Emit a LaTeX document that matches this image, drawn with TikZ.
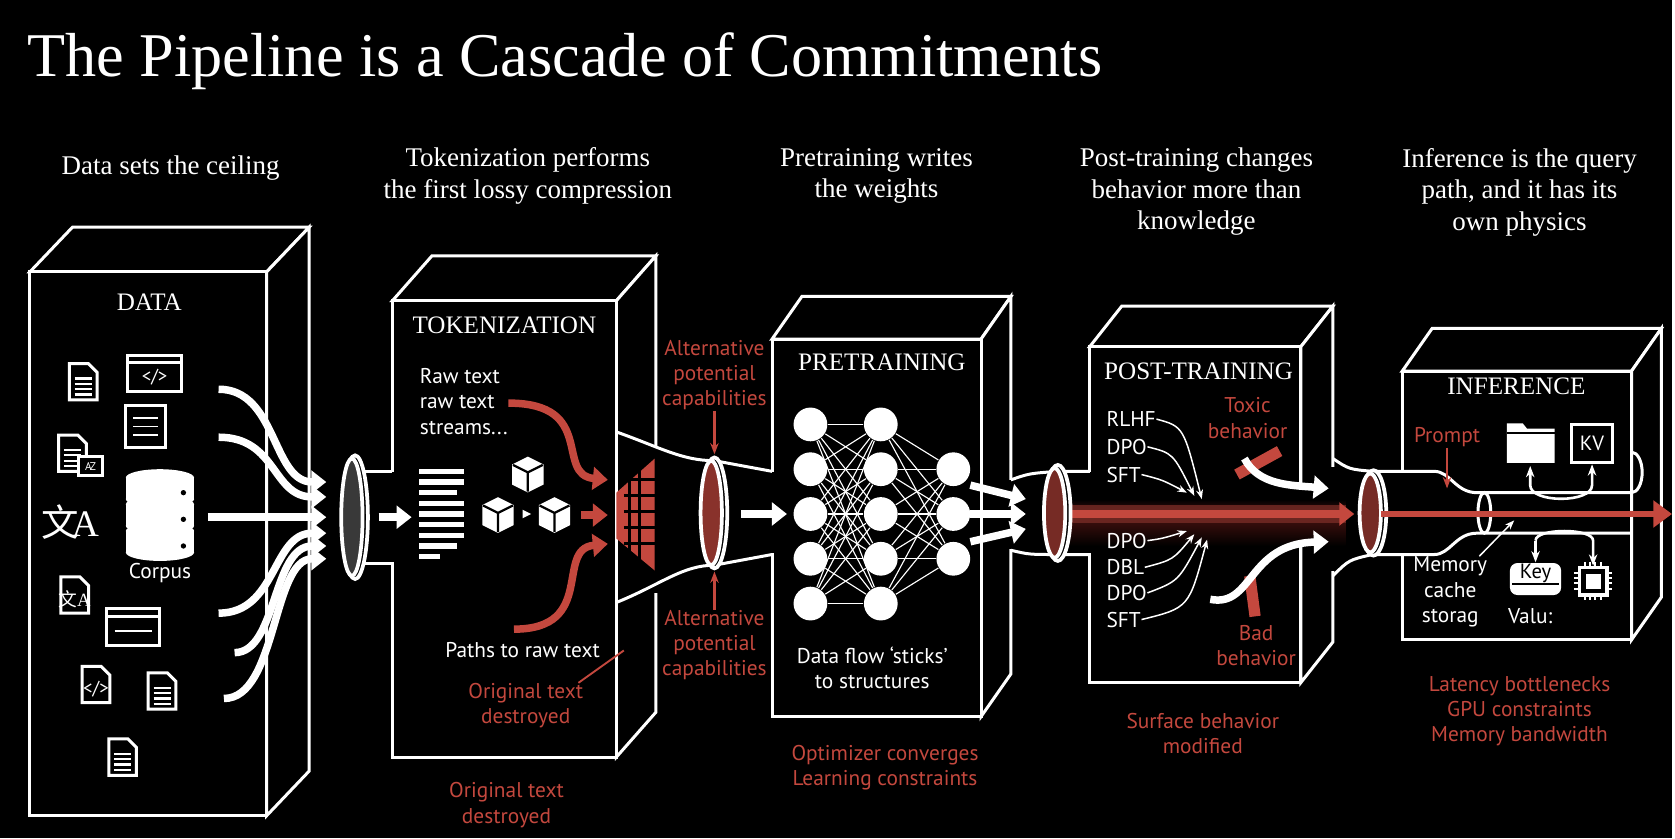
\documentclass[tikz,border=0pt]{standalone}
\usepackage{fontspec}
\setmainfont{Liberation Serif}
\setsansfont{PT Sans}
\newfontfamily\cjk{Noto Sans CJK SC}
\usetikzlibrary{arrows.meta,positioning,shapes.geometric}
\definecolor{redc}{HTML}{C4483E}
\definecolor{redd}{HTML}{4A1210}

\tikzstyle{hd} = [text=white, align=center, font=\fontsize{7.2}{8.4}\selectfont, inner sep=0pt]
\tikzstyle{ttl} = [text=white, font=\fontsize{6.7}{8}\selectfont, inner sep=0pt]
\tikzstyle{lbl} = [text=white, align=center, font=\sffamily\fontsize{5.7}{6.7}\selectfont, inner sep=0pt]
\tikzstyle{rlbl} = [lbl, text=redc]
\tikzstyle{box} = [draw=white, line width=0.8pt, fill=black]
\tikzstyle{tube} = [white, line width=0.8pt]
\tikzstyle{warr} = [white, line width=2pt, -{Triangle[length=4pt,width=6pt]}]
\tikzstyle{rarr} = [redc, line width=2pt, -{Triangle[length=4pt,width=6pt]}]
\tikzstyle{thin} = [white, line width=0.4pt, -{Stealth[length=2.5pt]}]
\tikzstyle{rthin} = [redc, line width=0.6pt, -{Stealth[length=3pt]}]
\tikzstyle{ico} = [white, line width=0.8pt]

% front corner x1,y1 / x2,y2, depth dx,dy
\newcommand{\slab}[6]{%
  \filldraw[box] (#1,#2) -- (#1+#5,#2-#6) -- (#3+#5,#2-#6) -- (#3,#2) -- cycle;
  \filldraw[box] (#3,#2) -- (#3+#5,#2-#6) -- (#3+#5,#4-#6) -- (#3,#4) -- cycle;
  \filldraw[box] (#1,#2) rectangle (#3,#4);}
\newcommand{\pageico}[2]{%
  \draw[ico, fill=black, shift={(#1,#2)}] (-13,-17) -- (5,-17) -- (13,-9) -- (13,17) -- (-13,17) -- cycle;}
\newcommand{\docico}[2]{%
  \pageico{#1}{#2}
  \foreach \yy in {-3,2,7,12} \draw[ico, line width=0.6pt, shift={(#1,#2)}] (-8,\yy) -- (8,\yy);}
\newcommand{\winico}[3]{%
  \begin{scope}[shift={(#1,#2)}]
    \draw[ico, fill=black] (-25,-17) rectangle (25,17);
    \draw[ico] (-25,-10) -- (25,-10);
    \node[lbl, font=\sffamily\fontsize{5}{5}\selectfont] at (0,4) {#3};
  \end{scope}}
\newcommand{\lens}[4]{% x, y, ry, fill
  \filldraw[white, line width=1pt, fill=black] (#1+3,#2) ellipse [x radius=12, y radius=#3];
  \filldraw[white, line width=1pt, fill=#4] (#1,#2) ellipse [x radius=10, y radius=#3-3];}

\begin{document}
\begin{tikzpicture}[x=0.1mm, y=-0.1mm]
  \fill[black] (0,0) rectangle (1568,786);

  \node[anchor=base west, text=white, font=\fontsize{16.6}{18}\selectfont, inner sep=0pt] (title) at (25,72) {The Pipeline is a Cascade of Commitments};

  % headings
  \node[hd] (h1) at (160,158) {Data sets the ceiling};
  \node[hd] (h2) at (495,165) {Tokenization performs\\the first lossy compression};
  \node[hd] (h3) at (822,165) {Pretraining writes\\the weights};
  \node[hd] (h4) at (1122,180) {Post-training changes\\behavior more than\\knowledge};
  \node[hd] (h5) at (1425,180) {Inference is the query\\path, and it has its\\own physics};

  % stages
  \slab{28}{255}{250}{765}{40}{42}
  \slab{368}{282}{578}{710}{37}{42}
  \slab{724}{318}{920}{672}{28}{40}
  \slab{1022}{325}{1220}{640}{30}{38}
  \slab{1315}{348}{1530}{600}{28}{40}

  \node[ttl] (tdata) at (140,283) {DATA};
  \node[ttl] (ttok) at (473,305) {TOKENIZATION};
  \node[ttl] (tpre) at (827,340) {PRETRAINING};
  \node[ttl] (tpost) at (1124,348) {POST-TRAINING};
  \node[ttl] (tinf) at (1422,362) {INFERENCE};

  % openings
  \fill[black] (362,443) rectangle (375,527);
  \fill[black] (718,443) rectangle (731,519);
  \fill[black] (1016,443) rectangle (1029,519);
  \fill[black] (1309,443) rectangle (1322,519);
  \fill[black] (606,418) rectangle (620,556);
  \fill[black] (940,450) rectangle (952,515);
  \fill[black] (1244,438) rectangle (1256,535);

  % tubes
  \draw[tube] (330,442) -- (368,442);
  \draw[tube] (330,528) -- (368,528);
  \draw[tube] (578,405) .. controls (620,420) and (640,432) .. (670,432) -- (724,442);
  \draw[tube] (578,565) .. controls (620,548) and (640,530) .. (670,530) -- (724,520);
  \draw[tube] (948,450) .. controls (965,444) .. (992,442) -- (1022,442);
  \draw[tube] (948,516) .. controls (965,520) .. (992,520) -- (1022,520);
  \draw[tube] (1250,430) .. controls (1265,440) .. (1287,442) -- (1345,442) .. controls (1360,442) and (1365,462) .. (1385,462) -- (1530,462) arc[start angle=-90, end angle=90, x radius=10, y radius=-19];
  \draw[tube] (1250,540) .. controls (1265,525) .. (1287,520) -- (1345,520) .. controls (1360,520) and (1365,500) .. (1385,500) -- (1530,500);
  \draw[tube] (1392,481) ellipse [x radius=6, y radius=19];

  % data icons
  \docico{78}{358}
  \winico{145}{350}{</>}
  \draw[ico, fill=black] (118,380) rectangle (155,420);
  \foreach \yy in {392,400,408} \draw[ico, line width=0.5pt] (125,\yy) -- (148,\yy);
  \docico{68}{425}
  \draw[ico, fill=black] (74,428) rectangle (96,446);
  \node[lbl, font=\sffamily\fontsize{3}{3}\selectfont] at (85,437) {A\!Z};
  \node[text=white, font=\fontsize{10}{10}\selectfont, inner sep=0pt] (xa) at (66,490) {{\cjk 文}\kern-2pt A};
  \pageico{70}{558}
  \node[text=white, font=\fontsize{5}{5}\selectfont, inner sep=0pt] at (70,562) {{\cjk 文}A};
  \winico{125}{588}{\rule{10pt}{0.6pt}}
  \pageico{90}{642}
  \node[lbl, font=\sffamily\fontsize{5}{5}\selectfont] at (90,646) {</>};
  \docico{152}{648}
  \docico{115}{710}
  \foreach \k in {0,1,2} {
    \fill[white] (118,448+\k*25) rectangle (182,468+\k*25);
    \fill[white] (150,448+\k*25) ellipse [x radius=32, y radius=8];
    \fill[white] (150,468+\k*25) ellipse [x radius=32, y radius=8];
    \fill[black] (172,462+\k*25) circle [radius=2.5];}
  \node[lbl] (corpus) at (150,537) {Corpus};

  % data streams
  \foreach \sx/\sy/\ey in {205/365/452, 205/410/466, 195/485/485, 205/575/500, 220/612/512, 210/655/524} {
    \draw[warr] (\sx,\sy) .. controls (260,\sy) and (255,\ey) .. (306,\ey);}

  \lens{330}{485}{58}{gray!45!black}

  % tokenization
  \draw[warr] (355,485) -- (386,485);
  \foreach \yy/\ww in {442/42,452/42,462/36,472/42,482/42,492/42,502/42,512/36,522/20}
    \draw[white, line width=1.4pt] (393,\yy) -- ++(\ww,0);
  \foreach \cx/\cy in {495/444, 467/482, 520/482} {
    \filldraw[white] (\cx-14,\cy-8) -- (\cx,\cy-15) -- (\cx+14,\cy-8) -- (\cx+14,\cy+10) -- (\cx,\cy+17) -- (\cx-14,\cy+10) -- cycle;
    \draw[black, line width=0.6pt] (\cx-14,\cy-8) -- (\cx,\cy-1) -- (\cx+14,\cy-8) (\cx,\cy-1) -- (\cx,\cy+17);}
  \fill[white] (490,478) -- (498,482) -- (490,486) -- cycle;
  \node[lbl, align=left, anchor=north west] (raw) at (393,345) {Raw text\\raw text\\streams...};
  \draw[rarr] (raw.east |- 0,378) .. controls (560,378) and (520,445) .. (570,450);
  \draw[rarr] (482,590) .. controls (560,590) and (520,515) .. (570,510);
  \draw[rarr] (545,483) -- (570,483);
  \fill[redc] (578,462) -- (614,430) -- (614,535) -- (578,505) -- cycle;
  \foreach \yy in {450,465,480,495,510} \draw[black, line width=0.8pt] (585,\yy) -- (614,\yy);
  \foreach \xx/\ya/\yb in {590/440/525, 600/435/530} \draw[black, line width=0.8pt] (\xx,\ya) -- (\xx,\yb);
  \node[lbl] (paths) at (490,610) {Paths to raw text};
  \node[rlbl] (lost1) at (493,662) {Original text\\destroyed};
  \draw[redc, line width=0.5pt] (lost1.north east) ++(-5,0) -- (585,610);
  \node[rlbl] (lost2) at (475,755) {Original text\\destroyed};

  \lens{667}{481}{52}{redc!70!black}
  \node[rlbl] (alt1) at (670,352) {Alternative\\potential\\capabilities};
  \node[rlbl] (alt2) at (670,605) {Alternative\\potential\\capabilities};
  \coordinate (lenstop) at (670,426);
  \coordinate (lensbot) at (670,536);
  \draw[rthin] (alt1) -- (lenstop);
  \draw[rthin] (alt2) -- (lensbot);

  % pretraining
  \draw[warr] (695,482) -- (738,482);
  \foreach \i/\yy in {1/398,2/440,3/482,4/524,5/566} {
    \node[circle, fill=white, minimum size=15pt*0.6, inner sep=0pt] (a\i) at (760,\yy) {};
    \node[circle, fill=white, minimum size=15pt*0.6, inner sep=0pt] (b\i) at (826,\yy) {};}
  \foreach \i/\yy in {1/440,2/482,3/524}
    \node[circle, fill=white, minimum size=15pt*0.6, inner sep=0pt] (c\i) at (894,\yy) {};
  \foreach \i in {1,...,5} {
    \foreach \j in {1,...,5} \draw[white, line width=0.3pt] (a\i) -- (b\j);
    \foreach \j in {1,2,3} \draw[white, line width=0.3pt] (b\i) -- (c\j);}
  \draw[warr] (910,455) -- (962,468);
  \draw[warr] (910,482) -- (962,482);
  \draw[warr] (910,508) -- (962,496);
  \node[lbl] (sticks) at (818,626) {Data flow ‘sticks’\\to structures};
  \node[rlbl] (optim) at (830,720) {Optimizer converges\\Learning constraints};

  % post-training beam
  \shade[top color=black, bottom color=redd, middle color=black] (996,455) rectangle (1262,482);
  \shade[top color=redd, bottom color=black] (996,482) rectangle (1262,512);
  \fill[redc!60!black, opacity=0.8] (996,474) rectangle (1262,490);
  \draw[rarr, line width=2.2pt] (996,482) -- (1270,482);
  \lens{989}{481}{45}{redc!60!black}

  \node[lbl, anchor=west] (rlhf) at (1037,393) {RLHF};
  \node[lbl, anchor=west] (dpo1) at (1037,419) {DPO};
  \node[lbl, anchor=west] (sft1) at (1037,445) {SFT};
  \node[lbl, anchor=west] (dpo2) at (1037,507) {DPO};
  \node[lbl, anchor=west] (dbl) at (1037,532) {DBL};
  \node[lbl, anchor=west] (dpo3) at (1037,556) {DPO};
  \node[lbl, anchor=west] (sft2) at (1037,581) {SFT};
  \coordinate (up1) at (1127,468);
  \coordinate (up2) at (1120,465);
  \coordinate (up3) at (1113,462);
  \coordinate (dn1) at (1113,498);
  \coordinate (dn2) at (1120,501);
  \coordinate (dn3) at (1127,504);
  \coordinate (dn4) at (1132,506);
  \draw[thin] (rlhf.east) .. controls (1110,400) .. (up1);
  \draw[thin] (dpo1.east) .. controls (1100,425) .. (up2);
  \draw[thin] (sft1.east) .. controls (1090,450) .. (up3);
  \draw[thin] (dpo2.east) .. controls (1090,505) .. (dn1);
  \draw[thin] (dbl.east) .. controls (1100,525) .. (dn2);
  \draw[thin] (dpo3.east) .. controls (1105,545) .. (dn3);
  \draw[thin] (sft2.east) .. controls (1115,570) .. (dn4);

  \node[rlbl] (toxic) at (1170,392) {Toxic\\behavior};
  \node[rlbl] (bad) at (1178,605) {Bad\\behavior};
  \draw[redc, line width=3pt] (1160,445) -- (1200,423);
  \draw[redc, line width=3pt] (1172,540) -- (1177,578);
  \draw[warr] (1167,430) .. controls (1180,455) and (1210,455) .. (1246,458);
  \draw[warr] (1135,562) .. controls (1175,570) and (1170,510) .. (1246,508);
  \node[rlbl] (surface) at (1128,688) {Surface behavior\\modified};

  % inference
  \lens{1285}{481}{40}{redc!60!black}
  \draw[redc, line width=1.6pt, -{Triangle[length=5pt,width=7pt]}] (1295,482) -- (1568,482);
  \node[rlbl] (prompt) at (1357,410) {Prompt};
  \coordinate (pin) at (1357,458);
  \draw[rthin] (prompt) -- (pin);
  \fill[white] (1413,402) -- (1413,397) -- (1428,397) -- (1432,402) -- (1458,402) -- (1458,434) -- (1413,434) -- cycle;
  \draw[black, line width=0.6pt] (1413,406) -- (1458,406);
  \node[draw=white, line width=0.8pt, fill=black, minimum width=38*0.2845pt, minimum height=36*0.2845pt, inner sep=0pt, text=white, font=\sffamily\fontsize{5.5}{5.5}\selectfont] (kv) at (1493,416) {KV};
  \coordinate (folder) at (1435,437);
  \draw[white, line width=0.7pt, {Stealth[length=3pt]}-{Stealth[length=3pt]}] (folder) -- (1435,455) .. controls (1435,472) and (1493,472) .. (1493,455) -- (kv.south);
  \node[fill=white, rounded corners=2pt, minimum width=48*0.2845pt, minimum height=30*0.2845pt, inner sep=0pt, text=black, font=\sffamily\fontsize{5.5}{5.5}\selectfont, text depth=4pt] (key) at (1440,543) {Key};
  \draw[black, line width=0.5pt] (1418,548) -- (1462,548);
  \node[draw=white, line width=0.9pt, fill=black, minimum size=26*0.2845pt, inner sep=0pt] (chip) at (1494,545) {};
  \fill[white] (1487,538) rectangle (1501,552);
  \foreach \dd in {-8,-3,2,7} {
    \draw[white, line width=0.5pt] (1494+\dd,527) -- (1494+\dd,532) (1494+\dd,558) -- (1494+\dd,563);
    \draw[white, line width=0.5pt] (1476,545+\dd) -- (1481,545+\dd) (1507,545+\dd) -- (1512,545+\dd);}
  \draw[white, line width=0.7pt, -{Stealth[length=3pt]}] (1440,507) .. controls (1440,495) and (1494,495) .. (1494,507) -- (chip.north);
  \draw[white, line width=0.7pt, -{Stealth[length=3pt]}] (1440,507) -- (key.north);
  \node[lbl] (mem) at (1360,555) {Memory\\cache\\storag};
  \coordinate (cache) at (1420,488);
  \draw[thin] (mem.north east) ++(-8,0) -- (cache);
  \node[lbl] (valu) at (1435,578) {Valu:};
  \node[rlbl] (latency) at (1425,667) {Latency bottlenecks\\GPU constraints\\Memory bandwidth};
\end{tikzpicture}
\end{document}
